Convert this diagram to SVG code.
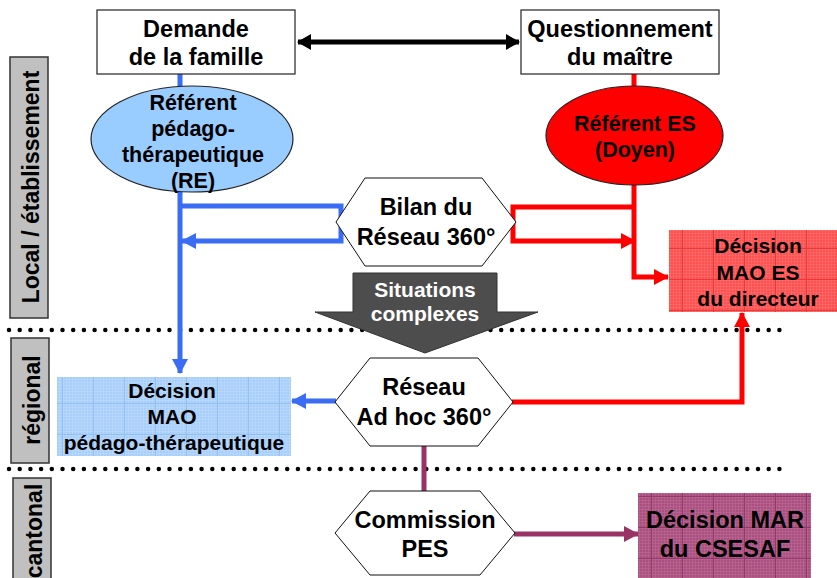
<svg xmlns="http://www.w3.org/2000/svg" width="837" height="578" viewBox="0 0 837 578">
<style>
text{font-family:"Liberation Sans",Arial,sans-serif;font-weight:bold;text-anchor:middle;fill:#000}
.tb{font-size:23.5px}
.te{font-size:21.5px}
.td{font-size:21px}
.tl{font-size:23px}
.box{fill:#fff;stroke:#222;stroke-width:1.2}
.hex{fill:#fff;stroke:#111;stroke-width:1}
.lab{fill:#c0c0c0;stroke:#333;stroke-width:1.5}
.dots{fill:none;stroke:#000;stroke-width:4.5;stroke-linecap:round;stroke-dasharray:0 10.7}
.c{fill:none;stroke-width:5}
.blue{stroke:#3a6cf4}
.red{stroke:#ff0000}
.pur{stroke:#993366}
</style>
<defs>
<marker id="mk" markerUnits="userSpaceOnUse" markerWidth="14" markerHeight="16" refX="13" refY="8" orient="auto-start-reverse"><path d="M0,0 L14,8 L0,16z" fill="#000"/></marker>
<marker id="mb" markerUnits="userSpaceOnUse" markerWidth="15" markerHeight="16" refX="14" refY="8" orient="auto"><path d="M0,0 L15,8 L0,16z" fill="#3a6cf4"/></marker>
<marker id="mr" markerUnits="userSpaceOnUse" markerWidth="15" markerHeight="16" refX="14" refY="8" orient="auto"><path d="M0,0 L15,8 L0,16z" fill="#ff0000"/></marker>
<marker id="mp" markerUnits="userSpaceOnUse" markerWidth="15" markerHeight="16" refX="14" refY="8" orient="auto"><path d="M0,0 L15,8 L0,16z" fill="#993366"/></marker>
<pattern id="pr" width="31" height="31" patternUnits="userSpaceOnUse">
<rect width="31" height="31" fill="#ff5050"/>
<path d="M0,1.5H31M0,4.5H31M0,7.5H31M0,10.5H31M0,13.5H31M0,16.5H31M0,19.5H31M0,22.5H31M0,25.5H31M0,28.5H31M1.5,0V31M4.5,0V31M7.5,0V31M10.5,0V31M13.5,0V31M16.5,0V31M19.5,0V31M22.5,0V31M25.5,0V31M28.5,0V31" stroke="#ff7070" stroke-width="0.6"/>
<path d="M0,0.5H31M0.5,0V31" stroke="#e83a3a" stroke-width="1"/>
</pattern>
<pattern id="pb" width="31" height="31" patternUnits="userSpaceOnUse">
<rect width="31" height="31" fill="#a8cffa"/>
<path d="M0,1.5H31M0,4.5H31M0,7.5H31M0,10.5H31M0,13.5H31M0,16.5H31M0,19.5H31M0,22.5H31M0,25.5H31M0,28.5H31M1.5,0V31M4.5,0V31M7.5,0V31M10.5,0V31M13.5,0V31M16.5,0V31M19.5,0V31M22.5,0V31M25.5,0V31M28.5,0V31" stroke="#bcdafc" stroke-width="0.6"/>
<path d="M0,0.5H31M0.5,0V31" stroke="#94bff2" stroke-width="1"/>
</pattern>
<pattern id="pp" width="31" height="31" patternUnits="userSpaceOnUse">
<rect width="31" height="31" fill="#aa5080"/>
<path d="M0,1.5H31M0,4.5H31M0,7.5H31M0,10.5H31M0,13.5H31M0,16.5H31M0,19.5H31M0,22.5H31M0,25.5H31M0,28.5H31M1.5,0V31M4.5,0V31M7.5,0V31M10.5,0V31M13.5,0V31M16.5,0V31M19.5,0V31M22.5,0V31M25.5,0V31M28.5,0V31" stroke="#ba6a94" stroke-width="0.6"/>
<path d="M0,0.5H31M0.5,0V31" stroke="#933a6a" stroke-width="1"/>
</pattern>
</defs>
<rect width="837" height="578" fill="#fff"/>

<g id="levels">
<rect class="lab" x="10" y="57" width="38" height="261"/>
<text class="tl" transform="translate(38.5,187) rotate(-90)">Local / établissement</text>
<rect class="lab" x="11" y="338" width="38" height="125"/>
<text class="tl" transform="translate(39.5,400) rotate(-90)">régional</text>
<rect class="lab" x="13" y="478" width="38" height="110"/>
<text class="tl" transform="translate(41.5,531) rotate(-90)">cantonal</text>
<line class="dots" x1="9" y1="330" x2="790" y2="330"/>
<line class="dots" x1="9" y1="469" x2="790" y2="469"/>
</g>

<g id="connectors">
<path class="c" d="M298,42 H519" stroke="#000" marker-start="url(#mk)" marker-end="url(#mk)"/>
<path class="c blue" d="M180,74 V373" marker-end="url(#mb)"/>
<path class="c blue" d="M180,206 H341 V241 H182" marker-end="url(#mb)"/>
<path class="c blue" d="M336,401 H292" marker-end="url(#mb)"/>
<path class="c red" d="M634,74 V277 H668" marker-end="url(#mr)"/>
<path class="c red" d="M634,207 H513 V241 H635" marker-end="url(#mr)"/>
<path class="c red" d="M512,402 H742 V313" marker-end="url(#mr)"/>
<path class="c pur" d="M424,446 V491"/>
<path class="c pur" d="M514,534 H638" marker-end="url(#mp)"/>
</g>

<g id="demande">
<rect class="box" x="97" y="10" width="198" height="64"/>
<text class="tb" x="196" y="37">Demande</text>
<text class="tb" x="196" y="65">de la famille</text>
</g>

<g id="questionnement">
<rect class="box" x="521" y="10" width="198" height="64"/>
<text class="tb" x="620" y="37">Questionnement</text>
<text class="tb" x="620" y="65">du maître</text>
</g>

<g id="referent-re">
<ellipse cx="192" cy="139" rx="101" ry="53" fill="#99ccff" stroke="#222" stroke-width="1.2"/>
<text class="te" x="193" y="110">Référent</text>
<text class="te" x="193" y="136">pédago-</text>
<text class="te" x="193" y="162">thérapeutique</text>
<text class="te" x="193" y="188">(RE)</text>
</g>

<g id="referent-es">
<ellipse cx="634.5" cy="135.5" rx="88.5" ry="49.5" fill="#ff0000" stroke="#222" stroke-width="1.2"/>
<text class="te" x="635" y="131">Référent ES</text>
<text class="te" x="635" y="157">(Doyen)</text>
</g>

<g id="bilan">
<polygon class="hex" points="336,222 365,178 482,178 516,222 482,266 365,266"/>
<text class="tb" x="426" y="215">Bilan du</text>
<text class="tb" x="426" y="245">Réseau 360°</text>
</g>

<g id="situations">
<polygon points="353,273 497,273 497,312 538,312 425,353 315,312 353,312" fill="#4d4d4d" stroke="#333" stroke-width="1"/>
<text class="td" x="425" y="297" style="fill:#fff">Situations</text>
<text class="td" x="425" y="321" style="fill:#fff">complexes</text>
</g>

<g id="decision-es">
<rect x="669" y="230" width="170" height="82" fill="url(#pr)"/>
<text class="td" x="758" y="253">Décision</text>
<text class="td" x="758" y="280">MAO ES</text>
<text class="td" x="758" y="306">du directeur</text>
</g>

<g id="reseau-adhoc">
<polygon class="hex" points="335,402 370,358 478,358 513,402 478,446 370,446"/>
<text class="tb" x="424" y="395">Réseau</text>
<text class="tb" x="424" y="425">Ad hoc 360°</text>
</g>

<g id="decision-mao">
<rect x="57" y="377" width="234" height="79" fill="url(#pb)"/>
<text class="td" x="172" y="398">Décision</text>
<text class="td" x="172" y="424">MAO</text>
<text class="td" x="174" y="450">pédago-thérapeutique</text>
</g>

<g id="commission">
<polygon class="hex" points="335,533 370,491 480,491 515,533 480,575 370,575"/>
<text class="tb" x="425" y="528">Commission</text>
<text class="tb" x="425" y="557">PES</text>
</g>

<g id="decision-mar">
<rect x="638" y="493" width="173" height="90" fill="url(#pp)"/>
<text class="tb" x="725" y="528">Décision MAR</text>
<text class="tb" x="725" y="557">du CSESAF</text>
</g>
</svg>
